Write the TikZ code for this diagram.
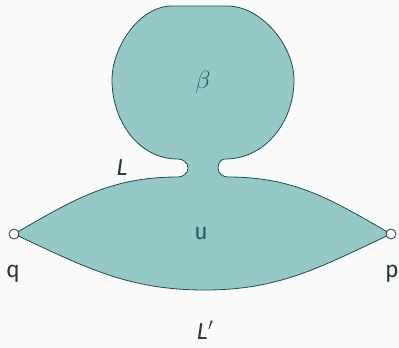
\documentclass[tikz,border=0pt]{standalone}
\usepackage{fontspec}
\setmainfont{Fira Sans}
\definecolor{bgcol}{HTML}{FAFAFA}
\definecolor{regfill}{HTML}{96C8C8}
\definecolor{regline}{HTML}{1E4E53}
\definecolor{txtcol}{HTML}{26363C}
\definecolor{intcol}{HTML}{215C60}
\tikzset{
  region/.style={fill=regfill, draw=regline, line width=0.8pt},
  endpt/.style={circle, draw=txtcol, fill=bgcol, line width=0.8pt, inner sep=0pt, minimum size=10pt},
  lbl/.style={text=txtcol, font=\fontsize{23}{26}\selectfont},
  inlbl/.style={text=intcol, font=\fontsize{23}{26}\selectfont}
}
\begin{document}
\begin{tikzpicture}[x=1pt,y=1pt]
   % background and bounding box
   \fill[bgcol] (0,0) rectangle (399,-348);
   \useasboundingbox (0,0) rectangle (399,-348);

   \coordinate (q) at (14,-234);
   \coordinate (p) at (391,-234);

   % disc on top of the lens
   \draw[region] (q) to[out=30,in=180] (178,-177)
       to[out=0,in=-90] (188,-168) to[out=90,in=0] (178,-159)
       to[out=180,in=-90] (112,-80) to[out=90,in=180,looseness=0.88] (172,-6)
       -- (227,-6) to[out=0,in=90,looseness=0.88] (294,-80)
       to[out=-90,in=0] (225,-159)
       to[out=180,in=90] (218,-168) to[out=-90,in=180] (228,-177)
       to[out=0,in=150] (p)
       to[out=205,in=0] (205,-290) to[out=180,in=-25] (q) -- cycle;

   % end points
   \node[endpt] (qdot) at (q) {};
   \node[endpt] (pdot) at (p) {};

   % labels
   \node[inlbl] (beta) at (203,-82) {$\beta$};
   \node[inlbl] (u) at (201,-234) {u};
   \node[lbl] (Ltop) at (122,-168) {\textit{L}};
   \node[lbl] (Lbot) at (205,-330) {\textit{L}$'$};
   \node[lbl] (qlab) at (13,-274) {q};
   \node[lbl] (plab) at (392,-274) {p};
\end{tikzpicture}
\end{document}
